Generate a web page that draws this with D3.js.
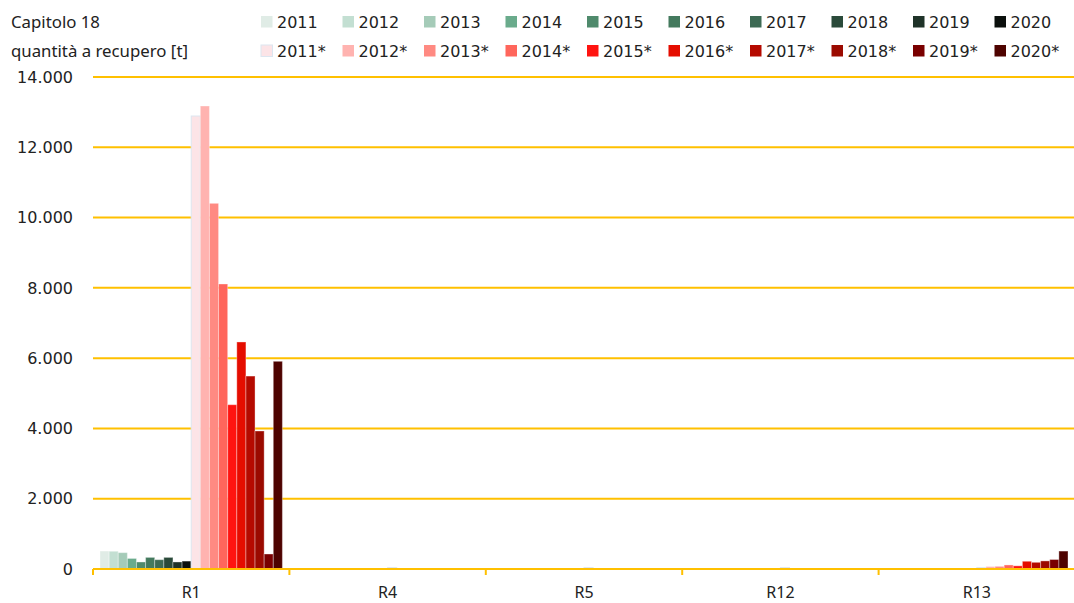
<!DOCTYPE html>
<html>
<head>
<meta charset="utf-8">
<script src="https://cdn.jsdelivr.net/npm/d3@7"></script>
<style>
  body { margin: 0; background: #fff; }
  svg { display: block; }
</style>
</head>
<body>
<script>
// categories and series
var categories = ['R1', 'R4', 'R5', 'R12', 'R13'];
var seriesNames = ['2011', '2012', '2013', '2014', '2015', '2016', '2017', '2018', '2019', '2020',
                   '2011*', '2012*', '2013*', '2014*', '2015*', '2016*', '2017*', '2018*', '2019*', '2020*'];
var seriesColors = ['#e0ece6', '#c3dfd2', '#a5cbb8', '#6aab8c', '#4f8a6c', '#447a5e', '#3d6a54', '#2a4a3a', '#1f3329', '#0b100d',
                    '#fce4e7', '#ffb3b0', '#ff8a82', '#ff665c', '#ff1410', '#e50d00', '#b50a00', '#9b0a00', '#7a0000', '#4e0300'];

// values per series, in category order R1, R4, R5, R12, R13
var values = [
  [510, 0, 0, 0, 0],
  [505, 0, 0, 0, 0],
  [465, 0, 0, 0, 0],
  [300, 0, 0, 0, 0],
  [200, 0, 0, 0, 0],
  [330, 0, 0, 0, 0],
  [265, 0, 0, 0, 0],
  [330, 0, 0, 0, 0],
  [200, 0, 0, 0, 20],
  [225, 0, 0, 0, 15],
  [12890, 40, 40, 40, 40],
  [13175, 0, 0, 0, 70],
  [10405, 0, 0, 0, 75],
  [8110, 0, 0, 0, 115],
  [4675, 0, 0, 0, 90],
  [6460, 0, 0, 0, 220],
  [5490, 0, 0, 0, 190],
  [3927, 0, 0, 0, 230],
  [427, 0, 0, 0, 270],
  [5910, 0, 0, 0, 510]
];
var yTicks = [0, 2000, 4000, 6000, 8000, 10000, 12000, 14000];

var W = 1074, H = 603;
var margin = { left: 93, right: 1075, top: 77, bottom: 569 };

var svg = d3.select('body').append('svg')
    .attr('width', W)
    .attr('height', H);

var x = d3.scaleBand()
    .domain(categories)
    .range([margin.left, margin.right])
    .padding(0);

var xs = d3.scaleBand()
    .domain(seriesNames)
    .range([7, x.bandwidth() - 7]);

var y = d3.scaleLinear()
    .domain([0, 14000])
    .range([margin.bottom, margin.top]);

var fmt = function(v) { return d3.format(',')(v).replace(/,/g, '.'); };

// grid lines
svg.append('g')
  .selectAll('line')
  .data(yTicks.filter(function(d) { return d > 0; }))
  .join('line')
    .attr('x1', margin.left)
    .attr('x2', margin.right)
    .attr('y1', function(d) { return y(d); })
    .attr('y2', function(d) { return y(d); })
    .attr('stroke', '#ffc000')
    .attr('stroke-width', 2);

// y labels
svg.append('g')
  .selectAll('text')
  .data(yTicks)
  .join('text')
    .attr('x', 73)
    .attr('y', function(d) { return y(d); })
    .attr('dy', '0.36em')
    .attr('text-anchor', 'end')
    .attr('font-family', 'DejaVu Sans')
    .attr('font-size', 16)
    .attr('fill', '#222')
    .text(fmt);

// bars
var rows = [];
seriesNames.forEach(function(s, i) {
  categories.forEach(function(c, j) {
    rows.push({ cat: c, series: s, value: values[i][j], color: seriesColors[i] });
  });
});

svg.append('g')
  .selectAll('rect')
  .data(rows.filter(function(d) { return d.value > 0; }))
  .join('rect')
    .attr('x', function(d) { return x(d.cat) + xs(d.series); })
    .attr('y', function(d) { return y(d.value); })
    .attr('width', xs.bandwidth())
    .attr('height', function(d) { return y(0) - y(d.value); })
    .attr('fill', function(d) { return d.color; })
    .attr('stroke', function(d) { return d.series === '2011*' ? '#dce6f0' : 'rgba(255,255,255,0.35)'; })
    .attr('stroke-width', 1);

// x axis
var xAxis = d3.axisBottom(x).tickSize(0).tickPadding(0);
var gx = svg.append('g')
    .attr('transform', 'translate(0,' + margin.bottom + ')')
    .call(xAxis);
gx.select('.domain').remove();
gx.selectAll('text')
    .attr('y', 29)
    .attr('dy', 0)
    .attr('font-family', 'Noto Sans')
    .attr('font-size', 16)
    .attr('fill', '#222');

svg.append('line')
    .attr('x1', margin.left)
    .attr('x2', margin.right)
    .attr('y1', margin.bottom)
    .attr('y2', margin.bottom)
    .attr('stroke', '#ffc000')
    .attr('stroke-width', 2);

// boundary ticks
var bounds = categories.map(function(c) { return x(c); }).concat([x.range()[1]]);
svg.append('g')
  .selectAll('line')
  .data(bounds)
  .join('line')
    .attr('x1', function(d) { return d; })
    .attr('x2', function(d) { return d; })
    .attr('y1', margin.bottom)
    .attr('y2', margin.bottom + 6)
    .attr('stroke', '#ffc000')
    .attr('stroke-width', 2);

// title
var title = svg.append('text')
    .attr('font-family', 'Noto Sans')
    .attr('font-size', 16.8)
    .attr('fill', '#222');
title.append('tspan').attr('x', 11).attr('y', 28).text('Capitolo 18');
title.append('tspan').attr('x', 11).attr('y', 57).text('quantità a recupero [t]');

// legend
var leg = svg.append('g');
var items = leg.selectAll('g')
  .data(seriesNames)
  .join('g')
    .attr('transform', function(d, i) {
      var col = i % 10, row = Math.floor(i / 10);
      return 'translate(' + (261 + col * 81.5) + ',' + (16 + row * 29) + ')';
    });
items.append('rect')
    .attr('width', 11.5)
    .attr('height', 11.5)
    .attr('fill', function(d, i) { return seriesColors[i]; })
    .attr('stroke', function(d) { return d === '2011*' ? '#dce6f0' : 'none'; });
items.append('text')
    .attr('x', 16)
    .attr('y', 11.5)
    .attr('font-family', 'DejaVu Sans')
    .attr('font-size', 16)
    .attr('fill', '#222')
    .text(function(d) { return d; });
</script>
</body>
</html>
